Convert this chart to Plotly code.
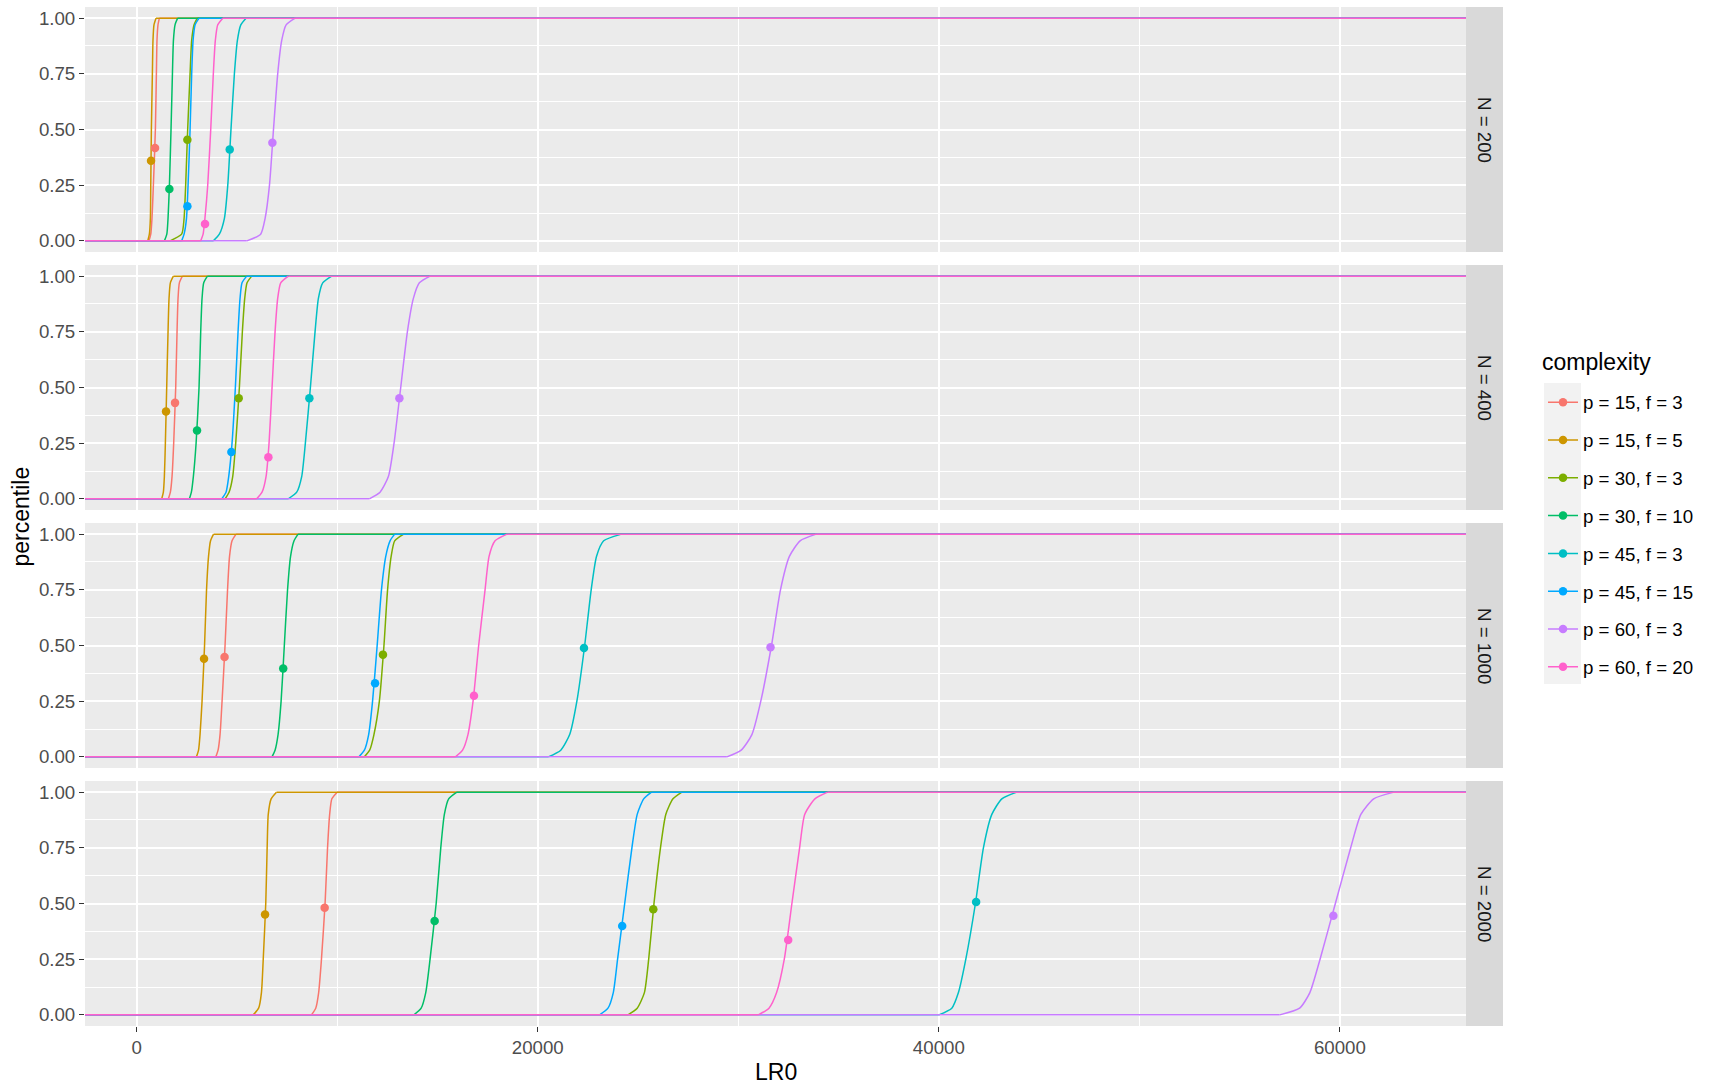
import plotly.graph_objects as go

# ---------------- data ----------------
facets = ["N = 200", "N = 400", "N = 1000", "N = 2000"]
complexities = ["p = 15, f = 3", "p = 15, f = 5", "p = 30, f = 3", "p = 30, f = 10",
                "p = 45, f = 3", "p = 45, f = 15", "p = 60, f = 3", "p = 60, f = 20"]
colors = ["#F8766D", "#CD9600", "#7CAE00", "#00BE67",
          "#00BFC4", "#00A9FF", "#C77CFF", "#FF61CC"]

levels = [0.0, 0.03, 0.10, 0.25, 0.50, 0.75, 0.90, 0.97, 1.0]

# LR0 quantiles per complexity (same order as `complexities`), one list per facet
cdf_n200 = [
    [610, 700, 760, 830, 930, 980, 1010, 1060, 1130],
    [550, 630, 680, 700, 730, 780, 810, 860, 960],
    [1660, 2240, 2360, 2440, 2540, 2660, 2740, 2860, 3020],
    [1380, 1500, 1560, 1630, 1710, 1780, 1830, 1910, 2040],
    [3820, 4120, 4370, 4540, 4700, 4870, 5020, 5190, 5450],
    [2240, 2360, 2480, 2560, 2660, 2740, 2810, 2910, 3110],
    [5490, 6180, 6400, 6620, 6820, 7030, 7230, 7450, 7900],
    [3190, 3310, 3400, 3540, 3690, 3820, 3920, 4040, 4290],
]
cdf_n400 = [
    [1577, 1677, 1760, 1843, 1943, 2010, 2060, 2126, 2276],
    [1245, 1328, 1378, 1428, 1494, 1561, 1611, 1677, 1827],
    [4404, 4603, 4786, 4936, 5119, 5268, 5385, 5501, 5734],
    [2625, 2725, 2824, 2960, 3107, 3190, 3257, 3340, 3523],
    [7562, 7978, 8227, 8410, 8660, 8892, 9059, 9275, 9724],
    [4237, 4453, 4587, 4753, 4919, 5052, 5152, 5251, 5484],
    [11600, 12134, 12550, 12832, 13165, 13497, 13796, 14096, 14628],
    [5983, 6249, 6449, 6598, 6748, 6898, 7030, 7180, 7562],
]
cdf_n1000 = [
    [3945, 4055, 4155, 4255, 4404, 4529, 4628, 4753, 4953],
    [2978, 3082, 3157, 3257, 3382, 3481, 3581, 3681, 3831],
    [11352, 11616, 11830, 12100, 12329, 12509, 12688, 12863, 13312],
    [6743, 6898, 7048, 7200, 7360, 7521, 7671, 7845, 8045],
    [20524, 21147, 21591, 21950, 22339, 22663, 22928, 23287, 24175],
    [11082, 11352, 11566, 11761, 11990, 12205, 12419, 12633, 12863],
    [29431, 30144, 30678, 31122, 31655, 32104, 32548, 33082, 33885],
    [15895, 16249, 16518, 16773, 17052, 17371, 17571, 17870, 18469],
]
cdf_n2000 = [
    [8713, 8927, 9072, 9212, 9392, 9516, 9621, 9731, 9995],
    [5810, 6079, 6219, 6309, 6434, 6504, 6559, 6703, 6968],
    [24500, 24958, 25317, 25531, 25795, 26119, 26384, 26743, 27187],
    [13825, 14184, 14413, 14628, 14932, 15162, 15341, 15556, 15965],
    [40000, 40647, 40977, 41346, 41825, 42224, 42643, 43142, 43890],
    [23087, 23501, 23766, 23980, 24334, 24694, 24958, 25282, 25671],
    [57000, 57995, 58504, 59012, 59775, 60539, 61047, 61686, 62700],
    [31000, 31531, 31910, 32294, 32673, 33057, 33311, 33820, 34458],
]

# observed LR0 and its percentile (the dots)
obs_lr0_n200 = [913, 713, 2525, 1628, 4637, 2525, 6765, 3406]
obs_pct_n200 = [0.417, 0.360, 0.454, 0.233, 0.410, 0.155, 0.441, 0.076]
obs_lr0_n400 = [1910, 1461, 5085, 3007, 8610, 4720, 13099, 6565]
obs_pct_n400 = [0.431, 0.392, 0.452, 0.307, 0.452, 0.210, 0.452, 0.187]
obs_lr0_n1000 = [4379, 3357, 12279, 7305, 22304, 11885, 31606, 16818]
obs_pct_n1000 = [0.448, 0.440, 0.459, 0.397, 0.489, 0.330, 0.492, 0.274]
obs_lr0_n2000 = [9372, 6399, 25761, 14857, 41860, 24210, 59676, 32489]
obs_pct_n2000 = [0.481, 0.451, 0.474, 0.421, 0.507, 0.399, 0.445, 0.336]

x_ticks = [0, 20000, 40000, 60000]
x_minor = [10000, 30000, 50000]
y_ticks = [0.0, 0.25, 0.50, 0.75, 1.0]
y_minor = [0.125, 0.375, 0.625, 0.875]
y_ticklabels = ["0.00", "0.25", "0.50", "0.75", "1.00"]

cdfs = [cdf_n200, cdf_n400, cdf_n1000, cdf_n2000]
obs_x = [obs_lr0_n200, obs_lr0_n400, obs_lr0_n1000, obs_lr0_n2000]
obs_y = [obs_pct_n200, obs_pct_n400, obs_pct_n1000, obs_pct_n2000]

# ---------------- layout geometry ----------------
W, H = 1715, 1087
ML, MR, MT, MB = 85, 212, 7, 61
PW, PH = W - ML - MR, H - MT - MB
PANEL_H, GAP = 245, 13
PANEL_RIGHT = 1466
X_DOM = [0, (PANEL_RIGHT - ML) / PW]
X_RANGE = [-2580, 66290]          # ggplot's 5 % expanded x scale
Y_RANGE = [-0.05, 1.05]

FONT = "Liberation Sans, Arial, Helvetica, sans-serif"
TICK_FS = 18.7
TITLE_FS = 23


def py(px):
    """page pixel row -> paper y"""
    return (PH + MT - px) / PH


def pxx(px):
    """page pixel column -> paper x"""
    return (px - ML) / PW


fig = go.Figure()

for i, (cdf, ox, oy) in enumerate(zip(cdfs, obs_x, obs_y)):
    xa = "x" if i == 0 else f"x{i+1}"
    ya = "y" if i == 0 else f"y{i+1}"
    # ECDF curves padded to -Inf / +Inf: flat tails straight, the rise smoothed
    for j, q in enumerate(cdf):
        xs = [X_RANGE[0], q[0], None] + list(q) + [None, q[-1], X_RANGE[1]]
        ys = [levels[0], levels[0], None] + levels + [None, levels[-1], levels[-1]]
        fig.add_trace(go.Scatter(
            x=xs, y=ys, mode="lines", connectgaps=False,
            line=dict(color=colors[j], width=1.5, shape="spline", smoothing=0.6),
            showlegend=False, hoverinfo="skip", xaxis=xa, yaxis=ya))
    for j in range(len(complexities)):
        fig.add_trace(go.Scatter(
            x=[ox[j]], y=[oy[j]],
            mode="lines+markers" if i == 0 else "markers",
            marker=dict(color=colors[j], size=8.5),
            line=dict(color=colors[j], width=1.5),
            name=complexities[j], legendgroup=complexities[j],
            showlegend=(i == 0), xaxis=xa, yaxis=ya))

layout = dict(
    width=W, height=H,
    margin=dict(l=ML, r=MR, t=MT, b=MB, pad=0),
    paper_bgcolor="white", plot_bgcolor="#EBEBEB",
    font=dict(family=FONT, color="black"),
    showlegend=True,
    legend=dict(
        x=pxx(1543), xanchor="left",
        y=py(383.5), yanchor="top",
        font=dict(size=TICK_FS, color="black"),
        tracegroupgap=10.5, itemwidth=30, bgcolor="rgba(0,0,0,0)",
    ),
)

shapes = []
annotations = []
for i in range(4):
    top_px = i * (PANEL_H + GAP)
    dom = [(PH - top_px - PANEL_H) / PH, (PH - top_px) / PH]
    xk = "xaxis" if i == 0 else f"xaxis{i+1}"
    yk = "yaxis" if i == 0 else f"yaxis{i+1}"
    ya = "y" if i == 0 else f"y{i+1}"
    xa = "x" if i == 0 else f"x{i+1}"
    bottom = (i == 3)
    layout[xk] = dict(
        domain=X_DOM, anchor=ya, range=X_RANGE,
        tickmode="array", tickvals=x_ticks, ticktext=[str(v) for v in x_ticks],
        showgrid=True, gridcolor="white", gridwidth=2.2,
        minor=dict(tickmode="array", tickvals=x_minor,
                   showgrid=True, gridcolor="white", gridwidth=1.1, ticks=""),
        zeroline=False, showline=False,
        showticklabels=bottom, ticks="outside" if bottom else "",
        ticklen=5, tickwidth=1.1, tickcolor="#333333",
        tickfont=dict(size=TICK_FS, color="#4D4D4D", family=FONT),
    )
    if i > 0:
        layout[xk]["matches"] = "x"
    layout[yk] = dict(
        domain=dom, anchor=xa, range=Y_RANGE,
        tickmode="array", tickvals=y_ticks, ticktext=y_ticklabels,
        showgrid=True, gridcolor="white", gridwidth=2.2,
        minor=dict(tickmode="array", tickvals=y_minor,
                   showgrid=True, gridcolor="white", gridwidth=1.1, ticks=""),
        zeroline=False, showline=False,
        ticks="outside", ticklen=5, tickwidth=1.1, tickcolor="#333333",
        tickfont=dict(size=TICK_FS, color="#4D4D4D", family=FONT),
    )
    # facet strip on the right
    shapes.append(dict(type="rect", xref="paper", yref=f"{ya} domain",
                       x0=X_DOM[1], x1=1.0, y0=0, y1=1,
                       fillcolor="#D9D9D9", line=dict(width=0), layer="below"))
    annotations.append(dict(text=facets[i], xref="paper", yref=f"{ya} domain",
                            x=(X_DOM[1] + 1.0) / 2, y=0.5, showarrow=False,
                            textangle=90, xanchor="center", yanchor="middle",
                            font=dict(size=TICK_FS, color="#1A1A1A")))

# legend key background
shapes.append(dict(type="rect", xref="paper", yref="paper",
                   x0=pxx(1544), x1=pxx(1581), y0=py(684), y1=py(383),
                   fillcolor="#F2F2F2", line=dict(width=0), layer="below"))

# legend title
annotations.append(dict(text="complexity", xref="paper", yref="paper",
                        x=pxx(1540), y=py(362), showarrow=False,
                        xanchor="left", yanchor="middle",
                        font=dict(size=TITLE_FS, color="black")))
# axis titles
annotations.append(dict(text="percentile", xref="paper", yref="paper",
                        x=pxx(20), y=0.5, showarrow=False, textangle=-90,
                        xanchor="center", yanchor="middle",
                        font=dict(size=TITLE_FS, color="black")))
annotations.append(dict(text="LR0", xref="paper", yref="paper",
                        x=X_DOM[1] / 2, y=py(1072), showarrow=False,
                        xanchor="center", yanchor="middle",
                        font=dict(size=TITLE_FS, color="black")))

layout["shapes"] = shapes
layout["annotations"] = annotations
fig.update_layout(**layout)

fig.write_html("out.html")
